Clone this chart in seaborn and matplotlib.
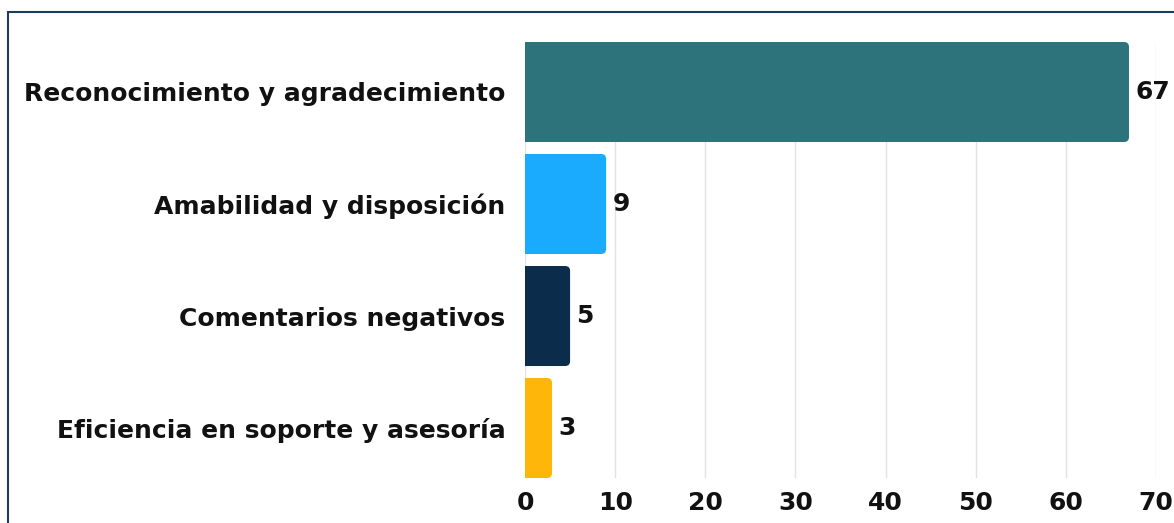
import pandas as pd
import matplotlib.pyplot as plt
import seaborn as sns
from matplotlib.patches import FancyBboxPatch, Rectangle

# Data
categories = ['Reconocimiento y agradecimiento', 'Amabilidad y disposición',
              'Comentarios negativos', 'Eficiencia en soporte y asesoría']
counts = [67, 9, 5, 3]
bar_colors = ['#2C737C', '#1AABFF', '#0B2C4A', '#FFB60A']
x_ticks = [0, 10, 20, 30, 40, 50, 60, 70]

df = pd.DataFrame({'Categoria': categories, 'Total': counts})

sns.set_style('white')
plt.rcParams['font.family'] = ['DejaVu Sans']

fig = plt.figure(figsize=(11.74, 5.23), dpi=100)
ax = fig.add_axes([0.4472, 0.0860, 0.9847 - 0.4472, 0.9197 - 0.0860])

bar_h = 100 / 112
sns.barplot(data=df, x='Total', y='Categoria', hue='Categoria', palette=bar_colors,
            saturation=1, width=bar_h, legend=False, ax=ax, zorder=2)

ax.set_xlim(0, 70)
ax.set_ylim(len(categories) - 1 + bar_h / 2, -bar_h / 2)

# swap the square bars for bars with rounded ends
px_x = (1156 - 525) / 70
px_y = 112
r = 5 / px_x
for p in list(ax.patches):
    x0, y0 = p.get_x(), p.get_y()
    w, h = p.get_width(), p.get_height()
    fb = FancyBboxPatch((x0 - r, y0), w + r, h,
                        boxstyle=f'round,pad=0,rounding_size={r}',
                        mutation_aspect=px_x / px_y,
                        facecolor=p.get_facecolor(), edgecolor='none', zorder=2)
    p.remove()
    ax.add_patch(fb)

for i, v in enumerate(counts):
    ax.text(v + 0.7, i, str(v), va='center', ha='left', fontsize=18,
            fontweight='bold', color='#111111')

ax.set_xticks(x_ticks)
ax.set_xticklabels([str(t) for t in x_ticks], fontsize=18, fontweight='bold', color='#111111')
ax.set_yticks(range(len(categories)))
ax.set_yticklabels(categories, fontsize=18, fontweight='bold', color='#111111')
ax.tick_params(axis='x', length=0, pad=9)
ax.tick_params(axis='y', length=0, pad=14)
ax.grid(axis='x', color='#E3E3E3', linewidth=1, zorder=0)
ax.set_axisbelow(True)
ax.set_xlabel('')
ax.set_ylabel('')
for s in ax.spines.values():
    s.set_visible(False)

# frame around the card (only top and left visible in the crop)
fig.patches.append(Rectangle((8 / 1174, -0.1), 1.2, 1 - 12 / 523 + 0.1,
                             transform=fig.transFigure, fill=False,
                             edgecolor='#1E3A5C', linewidth=1.5))

plt.savefig('out.png', dpi=100)
